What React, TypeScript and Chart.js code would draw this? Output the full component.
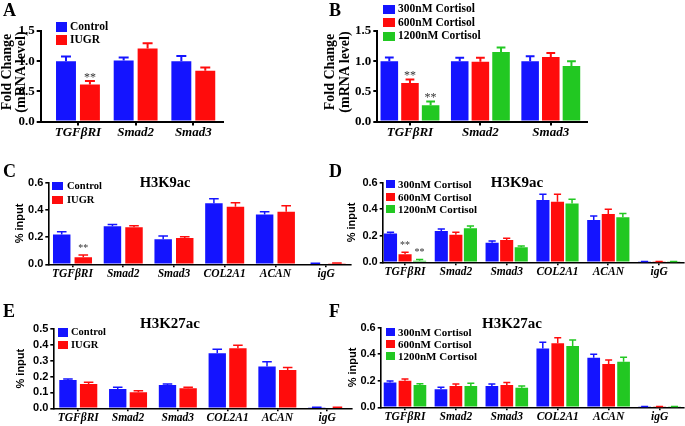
import React, { useEffect, useRef } from 'react';
import { Chart, registerables } from 'chart.js';
Chart.register(...registerables);

const SERIF = "'Liberation Serif', 'Times New Roman', serif";
const SANS = "'Liberation Sans', Arial, sans-serif";
const BLUE = '#1414ff';
const RED = '#ff0c0c';
const GREEN = '#22c822';

// ---------- data ----------
const CAT_MRNA = ['TGFβRI', 'Smad2', 'Smad3'];
const CAT_CHIP = ['TGFβRI', 'Smad2', 'Smad3', 'COL2A1', 'ACAN', 'igG'];
const GROUP_IUGR = ['Control', 'IUGR'];
const GROUP_CORT = ['300nM Cortisol', '600nM Cortisol', '1200nM Cortisol'];

// Panel A: mRNA, Control vs IUGR
const A_CONTROL = [1.0, 1.01, 1.0];
const A_CONTROL_SEM = [0.077, 0.05, 0.085];
const A_IUGR = [0.615, 1.21, 0.84];
const A_IUGR_SEM = [0.055, 0.088, 0.055];
const A_IUGR_SIG = ['**', '', ''];

// Panel B: mRNA, cortisol doses
const B_300 = [1.0, 1.0, 1.0];
const B_300_SEM = [0.06, 0.055, 0.08];
const B_600 = [0.64, 0.99, 1.07];
const B_600_SEM = [0.055, 0.065, 0.066];
const B_600_SIG = ['**', '', ''];
const B_1200 = [0.27, 1.15, 0.92];
const B_1200_SEM = [0.06, 0.077, 0.077];
const B_1200_SIG = ['**', '', ''];

// Panel C: H3K9ac, Control vs IUGR
const C_CONTROL = [0.22, 0.28, 0.184, 0.448, 0.367, 0.005];
const C_CONTROL_SEM = [0.02, 0.012, 0.024, 0.034, 0.02, 0.003];
const C_IUGR = [0.051, 0.272, 0.193, 0.424, 0.387, 0.007];
const C_IUGR_SEM = [0.018, 0.012, 0.01, 0.029, 0.044, 0.003];
const C_IUGR_SIG = ['**', '', '', '', '', ''];

// Panel D: H3K9ac, cortisol doses
const D_300 = [0.218, 0.236, 0.148, 0.47, 0.319, 0.004];
const D_300_SEM = [0.008, 0.015, 0.013, 0.042, 0.03, 0.002];
const D_600 = [0.06, 0.208, 0.168, 0.457, 0.364, 0.004];
const D_600_SEM = [0.015, 0.018, 0.013, 0.055, 0.035, 0.002];
const D_600_SIG = ['**', '', '', '', '', ''];
const D_1200 = [0.0125, 0.256, 0.113, 0.444, 0.339, 0.004];
const D_1200_SEM = [0.009, 0.018, 0.01, 0.031, 0.028, 0.002];
const D_1200_SIG = ['**', '', '', '', '', ''];

// Panel E: H3K27ac, Control vs IUGR
const E_CONTROL = [0.179, 0.122, 0.147, 0.347, 0.263, 0.004];
const E_CONTROL_SEM = [0.006, 0.01, 0.006, 0.025, 0.031, 0.002];
const E_IUGR = [0.153, 0.101, 0.126, 0.378, 0.242, 0.005];
const E_IUGR_SEM = [0.011, 0.01, 0.006, 0.019, 0.016, 0.002];

// Panel F: H3K27ac, cortisol doses
const F_300 = [0.186, 0.136, 0.161, 0.444, 0.374, 0.004];
const F_300_SEM = [0.012, 0.015, 0.015, 0.046, 0.025, 0.002];
const F_600 = [0.201, 0.161, 0.168, 0.482, 0.326, 0.004];
const F_600_SEM = [0.012, 0.015, 0.018, 0.043, 0.031, 0.002];
const F_1200 = [0.168, 0.161, 0.148, 0.462, 0.344, 0.004];
const F_1200_SEM = [0.01, 0.02, 0.013, 0.045, 0.033, 0.002];

const Y_TITLE_MRNA = ['Fold Change', '(mRNA level)'];
const Y_TITLE_CHIP = '% input';
const TITLE_K9 = 'H3K9ac';
const TITLE_K27 = 'H3K27ac';

// ---------- plugin: error bars + significance ----------
const errorBarPlugin = {
  id: 'errbars',
  afterDatasetsDraw(chart: any, _args: any, opts: any) {
    const ctx = chart.ctx;
    const yScale = chart.scales.y;
    chart.data.datasets.forEach((ds: any, di: number) => {
      const meta = chart.getDatasetMeta(di);
      if (!ds.sem) return;
      ctx.save();
      ctx.strokeStyle = ds.backgroundColor;
      ctx.lineWidth = opts.lineWidth;
      ctx.lineCap = 'butt';
      meta.data.forEach((bar: any, i: number) => {
        const { x, y, width } = bar.getProps(['x', 'y', 'width'], true);
        const v = ds.data[i].y;
        const top = yScale.getPixelForValue(v + ds.sem[i]);
        const half = (width * opts.capRatio) / 2;
        ctx.beginPath();
        ctx.moveTo(x, y);
        ctx.lineTo(x, top);
        ctx.moveTo(x - half, top);
        ctx.lineTo(x + half, top);
        ctx.stroke();
        const s = ds.sig ? ds.sig[i] : '';
        if (s) {
          ctx.fillStyle = '#333';
          ctx.font = opts.sigFont;
          ctx.textAlign = 'center';
          ctx.textBaseline = 'alphabetic';
          ctx.fillText(s, x, top - opts.sigGap);
        }
      });
      ctx.restore();
    });
  },
};

type Series = { label: string; values: number[]; sem: number[]; sig?: string[]; color: string };
type Spec = {
  left: number; top: number; w: number; h: number;
  yW: number; padTop: number; xH: number; padRight: number;
  xMin: number; xMax: number; yMax: number; yStep: number;
  catPct: number; barPct: number; axisW: number; errW: number; capRatio: number;
  sigFont: string; sigGap: number;
  cats: string[]; series: Series[];
  xFont: number; xTick: number; xPad: number;
  yFont: any; yTick: number; yPad: number;
  yTitle: any; yTitleFont: any; yTitlePad: number;
};

function buildConfig(p: Spec): any {
  const cats = p.cats;
  return {
    type: 'bar',
    data: {
      datasets: p.series.map((s) => ({
        label: s.label,
        data: s.values.map((v, i) => ({ x: i, y: v })),
        sem: s.sem,
        sig: s.sig,
        backgroundColor: s.color,
        borderWidth: 0,
        categoryPercentage: p.catPct,
        barPercentage: p.barPct,
      })),
    },
    options: {
      animation: false,
      responsive: false,
      maintainAspectRatio: false,
      devicePixelRatio: 1,
      events: [],
      layout: { padding: { top: p.padTop, right: p.padRight, bottom: 0, left: 0 } },
      plugins: {
        legend: { display: false },
        tooltip: { enabled: false },
        title: { display: false },
        errbars: { lineWidth: p.errW, capRatio: p.capRatio, sigFont: p.sigFont, sigGap: p.sigGap },
      },
      scales: {
        x: {
          type: 'linear',
          offset: false,
          min: p.xMin,
          max: p.xMax,
          afterBuildTicks: (s: any) => {
            s.ticks = cats.map((_, i) => ({ value: i }));
          },
          afterFit: (s: any) => {
            s.height = p.xH;
          },
          ticks: {
            autoSkip: false,
            maxRotation: 0,
            minRotation: 0,
            padding: p.xPad,
            color: '#000',
            font: { family: SERIF, size: p.xFont, weight: 'bold', style: 'italic', lineHeight: 1 },
            callback: (v: number) => cats[v] ?? '',
          },
          grid: { display: true, offset: false, drawOnChartArea: false, drawTicks: true, tickLength: p.xTick, color: '#000', lineWidth: p.axisW },
          border: { display: true, color: '#000', width: p.axisW },
        },
        y: {
          type: 'linear',
          min: 0,
          max: p.yMax,
          afterFit: (s: any) => {
            s.width = p.yW;
          },
          ticks: {
            stepSize: p.yStep,
            padding: p.yPad,
            color: '#000',
            font: p.yFont,
            callback: (v: number) => Number(v).toFixed(1),
          },
          grid: { display: true, drawOnChartArea: false, drawTicks: true, tickLength: p.yTick, color: '#000', lineWidth: p.axisW },
          border: { display: true, color: '#000', width: p.axisW },
          title: { display: !!p.yTitle, text: p.yTitle || '', color: '#000', font: p.yTitleFont, padding: { top: p.yTitlePad, bottom: 0 } },
        },
      },
    },
    plugins: [errorBarPlugin],
  };
}

function BarPanel({ spec }: { spec: Spec }) {
  const ref = useRef<HTMLCanvasElement>(null);
  useEffect(() => {
    const chart = new Chart(ref.current as HTMLCanvasElement, buildConfig(spec));
    return () => chart.destroy();
  }, []);
  return (
    <canvas
      ref={ref}
      width={spec.w}
      height={spec.h}
      style={{ position: 'absolute', left: spec.left, top: spec.top, width: spec.w, height: spec.h }}
    />
  );
}

const mrnaYFont = { family: SERIF, size: 13, weight: 'bold', lineHeight: 1 };
const chipYFont = { family: SANS, size: 11, weight: 'bold', lineHeight: 1 };
const chipTitleFont = { family: SANS, size: 11, weight: 'bold', lineHeight: 1 };

const common2 = { axisW: 2, errW: 2, capRatio: 0.5, sigFont: `12px ${SERIF}`, sigGap: 0.5, xFont: 13, xTick: 4, xPad: 1, yFont: mrnaYFont, yTick: 4, yPad: 2, yTitle: null, yTitleFont: mrnaYFont, yTitlePad: 0 };
const commonChip = { axisW: 1.6, errW: 1.5, capRatio: 0.55, sigFont: `10px ${SERIF}`, sigGap: 4, xFont: 11.5, xTick: 3, xPad: 1, yFont: chipYFont, yTick: 3, yPad: 2, yTitle: Y_TITLE_CHIP, yTitleFont: chipTitleFont };

const SPEC_A: Spec = {
  ...common2, left: 0, top: 0, w: 232, h: 140, yW: 40.7, padTop: 31, xH: 18.5, padRight: 8.7,
  xMin: -0.646, xMax: 2.52, yMax: 1.5, yStep: 0.5, catPct: 0.83, barPct: 0.833, cats: CAT_MRNA,
  series: [
    { label: GROUP_IUGR[0], values: A_CONTROL, sem: A_CONTROL_SEM, color: BLUE },
    { label: GROUP_IUGR[1], values: A_IUGR, sem: A_IUGR_SEM, sig: A_IUGR_SIG, color: RED },
  ],
};
const SPEC_B: Spec = {
  ...common2, left: 322, top: 0, w: 363, h: 140, yW: 55.3, padTop: 31, xH: 18.5, padRight: 98.3,
  xMin: -0.464, xMax: 2.51, yMax: 1.5, yStep: 0.5, catPct: 0.88, barPct: 0.85, cats: CAT_MRNA,
  series: [
    { label: GROUP_CORT[0], values: B_300, sem: B_300_SEM, color: BLUE },
    { label: GROUP_CORT[1], values: B_600, sem: B_600_SEM, sig: B_600_SIG, color: RED },
    { label: GROUP_CORT[2], values: B_1200, sem: B_1200_SEM, sig: B_1200_SIG, color: GREEN },
  ],
};
const SPEC_C: Spec = {
  ...commonChip, left: 0, top: 140, w: 360, h: 145, yW: 48.3, padTop: 42.7, xH: 20.7, padRight: 9,
  xMin: -0.477, xMax: 5.49, yMax: 0.6, yStep: 0.2, catPct: 0.85, barPct: 0.81, cats: CAT_CHIP, yTitlePad: 14.5,
  series: [
    { label: GROUP_IUGR[0], values: C_CONTROL, sem: C_CONTROL_SEM, color: BLUE },
    { label: GROUP_IUGR[1], values: C_IUGR, sem: C_IUGR_SEM, sig: C_IUGR_SIG, color: RED },
  ],
};
const SPEC_D: Spec = {
  ...commonChip, left: 340, top: 140, w: 345, h: 145, yW: 42.7, padTop: 42.7, xH: 22.7, padRight: 1,
  xMin: -0.44, xMax: 5.49, yMax: 0.6, yStep: 0.2, catPct: 0.86, barPct: 0.9, cats: CAT_CHIP, yTitlePad: 6.5,
  series: [
    { label: GROUP_CORT[0], values: D_300, sem: D_300_SEM, color: BLUE },
    { label: GROUP_CORT[1], values: D_600, sem: D_600_SEM, sig: D_600_SIG, color: RED },
    { label: GROUP_CORT[2], values: D_1200, sem: D_1200_SEM, sig: D_1200_SIG, color: GREEN },
  ],
};
const SPEC_E: Spec = {
  ...commonChip, left: 0, top: 285, w: 360, h: 141, yW: 53.3, padTop: 44, xH: 17.7, padRight: 8,
  xMin: -0.502, xMax: 5.5, yMax: 0.5, yStep: 0.1, catPct: 0.83, barPct: 0.84, cats: CAT_CHIP, yTitlePad: 15,
  series: [
    { label: GROUP_IUGR[0], values: E_CONTROL, sem: E_CONTROL_SEM, color: BLUE },
    { label: GROUP_IUGR[1], values: E_IUGR, sem: E_IUGR_SEM, color: RED },
  ],
};
const SPEC_F: Spec = {
  ...commonChip, left: 340, top: 285, w: 345, h: 141, yW: 40.7, padTop: 42.7, xH: 18.7, padRight: 1,
  xMin: -0.477, xMax: 5.48, yMax: 0.6, yStep: 0.2, catPct: 0.88, barPct: 0.85, cats: CAT_CHIP, yTitlePad: 7.5,
  series: [
    { label: GROUP_CORT[0], values: F_300, sem: F_300_SEM, color: BLUE },
    { label: GROUP_CORT[1], values: F_600, sem: F_600_SEM, color: RED },
    { label: GROUP_CORT[2], values: F_1200, sem: F_1200_SEM, color: GREEN },
  ],
};

function Text({ x, y, text, size, family = SERIF, center = false, rotate = false }: any) {
  let transform = center ? 'translate(-50%, -50%)' : 'translateY(-50%)';
  if (rotate) transform = 'translate(-50%, -50%) rotate(-90deg)';
  return (
    <div
      style={{
        position: 'absolute',
        left: x,
        top: y,
        fontFamily: family,
        fontWeight: 'bold',
        fontSize: size,
        lineHeight: 1,
        whiteSpace: 'nowrap',
        color: '#000',
        transform,
      }}
    >
      {text}
    </div>
  );
}

function Legend({ labels, colors, boxX, boxW, boxH, textX, rows, size }: any) {
  return (
    <>
      {labels.map((l: string, i: number) => (
        <React.Fragment key={l}>
          <div style={{ position: 'absolute', left: boxX, top: rows[i] - boxH / 2, width: boxW, height: boxH, background: colors[i] }} />
          <Text x={textX} y={rows[i]} text={l} size={size} />
        </React.Fragment>
      ))}
    </>
  );
}

export default function App() {
  return (
    <div style={{ position: 'fixed', left: 0, top: 0, width: 685, height: 426, background: '#fff', overflow: 'hidden' }}>
      <BarPanel spec={SPEC_A} />
      <BarPanel spec={SPEC_B} />
      <BarPanel spec={SPEC_C} />
      <BarPanel spec={SPEC_D} />
      <BarPanel spec={SPEC_E} />
      <BarPanel spec={SPEC_F} />

      <Text x={6.5} y={72} text={Y_TITLE_MRNA[0]} size={14} rotate />
      <Text x={20.5} y={72} text={Y_TITLE_MRNA[1]} size={14} rotate />
      <Text x={329.5} y={72} text={Y_TITLE_MRNA[0]} size={14} rotate />
      <Text x={344.5} y={72} text={Y_TITLE_MRNA[1]} size={14} rotate />

      <Text x={3} y={10} text="A" size={18} />
      <Text x={329} y={10} text="B" size={18} />
      <Text x={3} y={171} text="C" size={18} />
      <Text x={329} y={171} text="D" size={18} />
      <Text x={3} y={311} text="E" size={18} />
      <Text x={329} y={311} text="F" size={18} />

      <Text x={165} y={182} text={TITLE_K9} size={14.5} center />
      <Text x={517} y={182} text={TITLE_K9} size={15} center />
      <Text x={170} y={323} text={TITLE_K27} size={15} center />
      <Text x={512} y={323} text={TITLE_K27} size={15} center />

      <Legend labels={GROUP_IUGR} colors={[BLUE, RED]} boxX={55.5} boxW={11} boxH={10} textX={70} rows={[27, 40]} size={11.5} />
      <Legend labels={GROUP_CORT} colors={[BLUE, RED, GREEN]} boxX={383} boxW={12} boxH={9} textX={398} rows={[9, 22.5, 36]} size={11.5} />
      <Legend labels={GROUP_IUGR} colors={[BLUE, RED]} boxX={52} boxW={11} boxH={8} textX={67} rows={[186.3, 199.7]} size={10.5} />
      <Legend labels={GROUP_CORT} colors={[BLUE, RED, GREEN]} boxX={385.7} boxW={9.5} boxH={8} textX={398} rows={[184.3, 196.7, 209]} size={11} />
      <Legend labels={GROUP_IUGR} colors={[BLUE, RED]} boxX={58} boxW={10} boxH={8.5} textX={71} rows={[332.3, 345]} size={10.5} />
      <Legend labels={GROUP_CORT} colors={[BLUE, RED, GREEN]} boxX={385.7} boxW={9.5} boxH={8} textX={398} rows={[331.7, 344, 356.3]} size={11} />
    </div>
  );
}
